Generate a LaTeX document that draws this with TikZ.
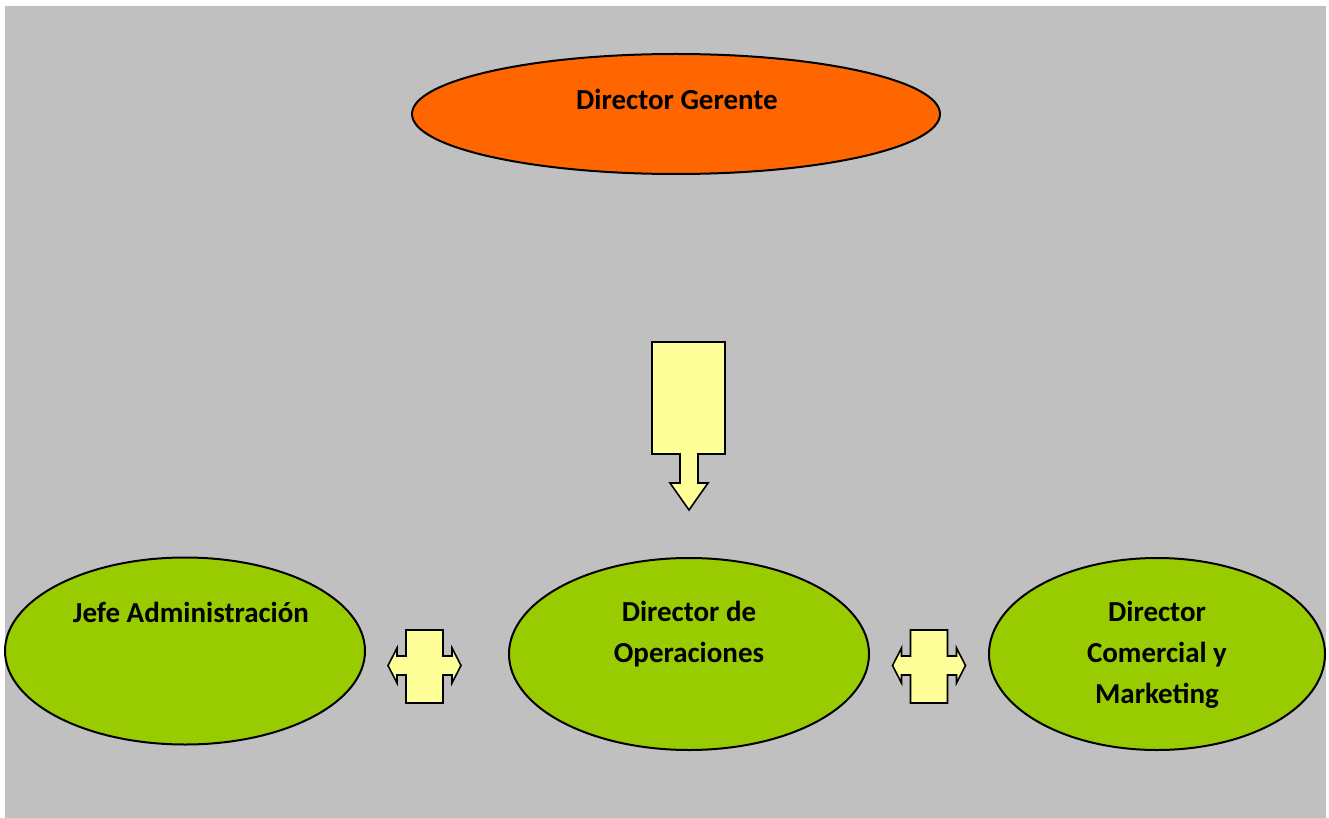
\documentclass[tikz,border=0pt]{standalone}
\usepackage{fontspec}
\setmainfont{Carlito}
\usetikzlibrary{shapes.geometric}
\definecolor{bggray}{HTML}{C0C0C0}
\definecolor{boss}{HTML}{FF6600}
\definecolor{dept}{HTML}{99CC00}
\definecolor{arrowfill}{HTML}{FFFF99}
\tikzset{
  role/.style={ellipse, draw=black, line width=2pt, inner sep=0pt},
  blockarrow/.style={draw=black, fill=arrowfill, line width=1.6pt, line join=miter},
  label/.style={font=\bfseries\fontsize{29}{41}\selectfont, align=center, inner sep=0pt}
}
\begin{document}
\begin{tikzpicture}[x=1pt, y=-1pt]
\useasboundingbox (0,0) rectangle (1329,818);
\fill[white] (0,0) rectangle (1329,818);
\fill[bggray] (5,6) rectangle (1326,818);

% top of the hierarchy
\node[role, fill=boss, minimum width=528pt, minimum height=120pt] (gerente) at (676,114) {};
\node[label] (gerenteTxt) at (677,99) {Director Gerente};

% departments
\node[role, fill=dept, minimum width=360pt, minimum height=187pt] (admin) at (185,651) {};
\node[role, fill=dept, minimum width=360pt, minimum height=192pt] (ops) at (689,654) {};
\node[role, fill=dept, minimum width=336pt, minimum height=192pt] (comercial) at (1157,654) {};

\node[label] (adminTxt) at (191,612) {Jefe Administración};
\node[label] (opsTxt) at (689,634) {Director de\\Operaciones};
\node[label] (comTxt) at (1157,655) {Director\\Comercial y\\Marketing};

% downward block arrow
\draw[blockarrow] (652,342) -- (725,342) -- (725,454) -- (698,454) -- (698,483)
  -- (708,483) -- (689,510) -- (670,483) -- (680,483) -- (680,454)
  -- (652,454) -- cycle;

% two-way block arrows between departments
\foreach \cx in {424.5, 929} {
  \draw[blockarrow] (\cx-18.5,630) -- (\cx+18.5,630) -- (\cx+18.5,656)
    -- (\cx+27.5,656) -- (\cx+27.5,648) -- (\cx+36.5,665.5) -- (\cx+27.5,683)
    -- (\cx+27.5,675) -- (\cx+18.5,675) -- (\cx+18.5,703) -- (\cx-18.5,703)
    -- (\cx-18.5,675) -- (\cx-27.5,675) -- (\cx-27.5,683) -- (\cx-36.5,665.5)
    -- (\cx-27.5,648) -- (\cx-27.5,656) -- (\cx-18.5,656) -- cycle;
}
\end{tikzpicture}
\end{document}
